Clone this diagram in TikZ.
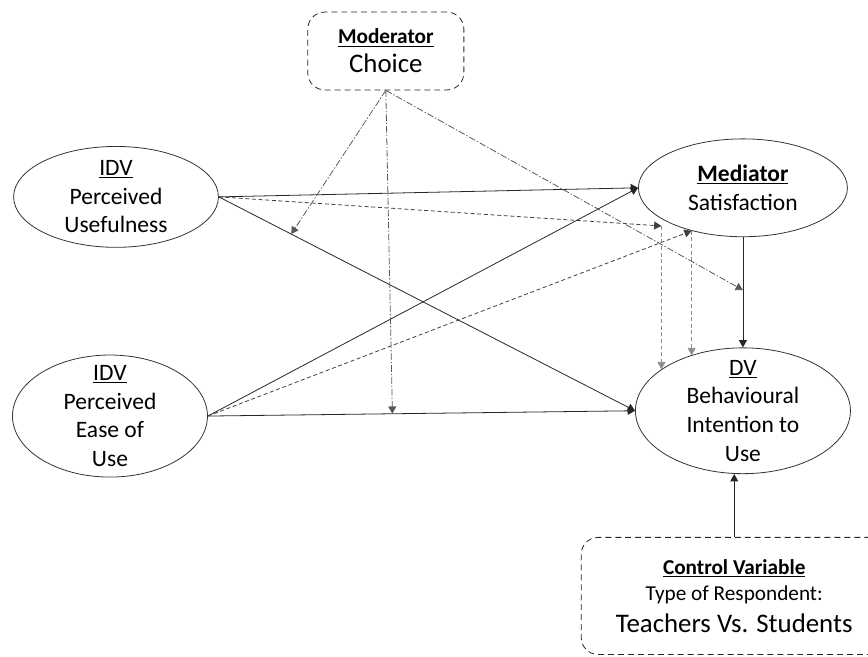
\documentclass[tikz,border=0pt]{standalone}
\usepackage{fontspec}
\setmainfont{Carlito}
\usetikzlibrary{shapes.geometric, arrows.meta, calc}

\begin{document}
\begin{tikzpicture}[line width=0.6pt, >={Triangle[length=5.5pt, width=6pt]},
    var/.style={draw=black!80, ellipse, inner sep=0pt},
    txt/.style={align=center, font=\fontsize{17.7}{21.5}\selectfont},
    box/.style={draw=black!85, dash pattern=on 4.5pt off 3pt, rounded corners=0.45cm, align=center, line width=0.6pt, font=\fontsize{16}{20}\selectfont},
    link/.style={->, black!85},
    medline/.style={->, black!75, densely dashed},
    vline/.style={->, black!45, densely dashed},
    modline/.style={->, black!65, dash pattern=on 5pt off 1.5pt on 1pt off 1.5pt}]

    \useasboundingbox (0,0) rectangle (22.97,-17.38);

    \node[box, minimum width=4.13cm, minimum height=2.06cm] at (10.21,-1.35) (Mod) {\textbf{\underline{Moderator}}\\[2pt]{\fontsize{20.2}{24}\selectfont Choice}};
    \node[var, minimum width=5.42cm, minimum height=2.67cm, label={[txt]center:\underline{IDV}\\Perceived\\Usefulness}] at (3.07,-5.21) (PU) {};
    \node[var, minimum width=5.16cm, minimum height=3.23cm, label={[txt]center:\underline{IDV}\\Perceived\\Ease of\\Use}] at (2.91,-11.01) (PEOU) {};
    \node[var, minimum width=5.53cm, minimum height=2.59cm, label={[txt]center:\textbf{\underline{Mediator}}\\Satisfaction}] at (19.66,-4.97) (Sat) {};
    \node[var, minimum width=5.69cm, minimum height=3.33cm, label={[txt]center:\underline{DV}\\Behavioural\\Intention to\\Use}] at (19.66,-10.87) (DV) {};
    \node[box, minimum width=8.1cm, minimum height=3.1cm] at (19.43,-15.77) (Ctrl) {\textbf{\underline{Control Variable}}\\Type of Respondent:\\[4pt]{\fontsize{20.2}{24}\selectfont Teachers Vs. Students}};

    \draw[link] (PU.east) -- (Sat.west);
    \draw[link] (PU.east) -- (DV.west);
    \draw[link] (PEOU.east) -- (Sat.west);
    \draw[link] (PEOU.east) -- (DV.west);
    \draw[link] (Sat) -- (DV);
    \draw[link] (Ctrl.north) -- (Ctrl.north |- DV.south);

    \coordinate (m1) at (DV.153 |- 0,-5.98);
    \coordinate (m2) at (Sat.220);
    \draw[medline] (PU.east) -- (m1);
    \draw[medline] (PEOU.east) -- (m2);
    \draw[vline] (m1) -- (DV.153);
    \draw[vline] (m2) -- (m2 |- DV.133);

    \coordinate (onPU) at ($(PU.east)!0.174!(DV.west)$);
    \coordinate (onPEOU) at ($(PEOU.east)!0.432!(DV.west)$);
    \coordinate (onSat) at ($(Sat.south)!0.48!(DV.north)$);
    \draw[modline] (Mod.south) -- (onPU);
    \draw[modline] (Mod.south) -- (onPEOU);
    \draw[modline] (Mod.south) -- (onSat);
\end{tikzpicture}
\end{document}
